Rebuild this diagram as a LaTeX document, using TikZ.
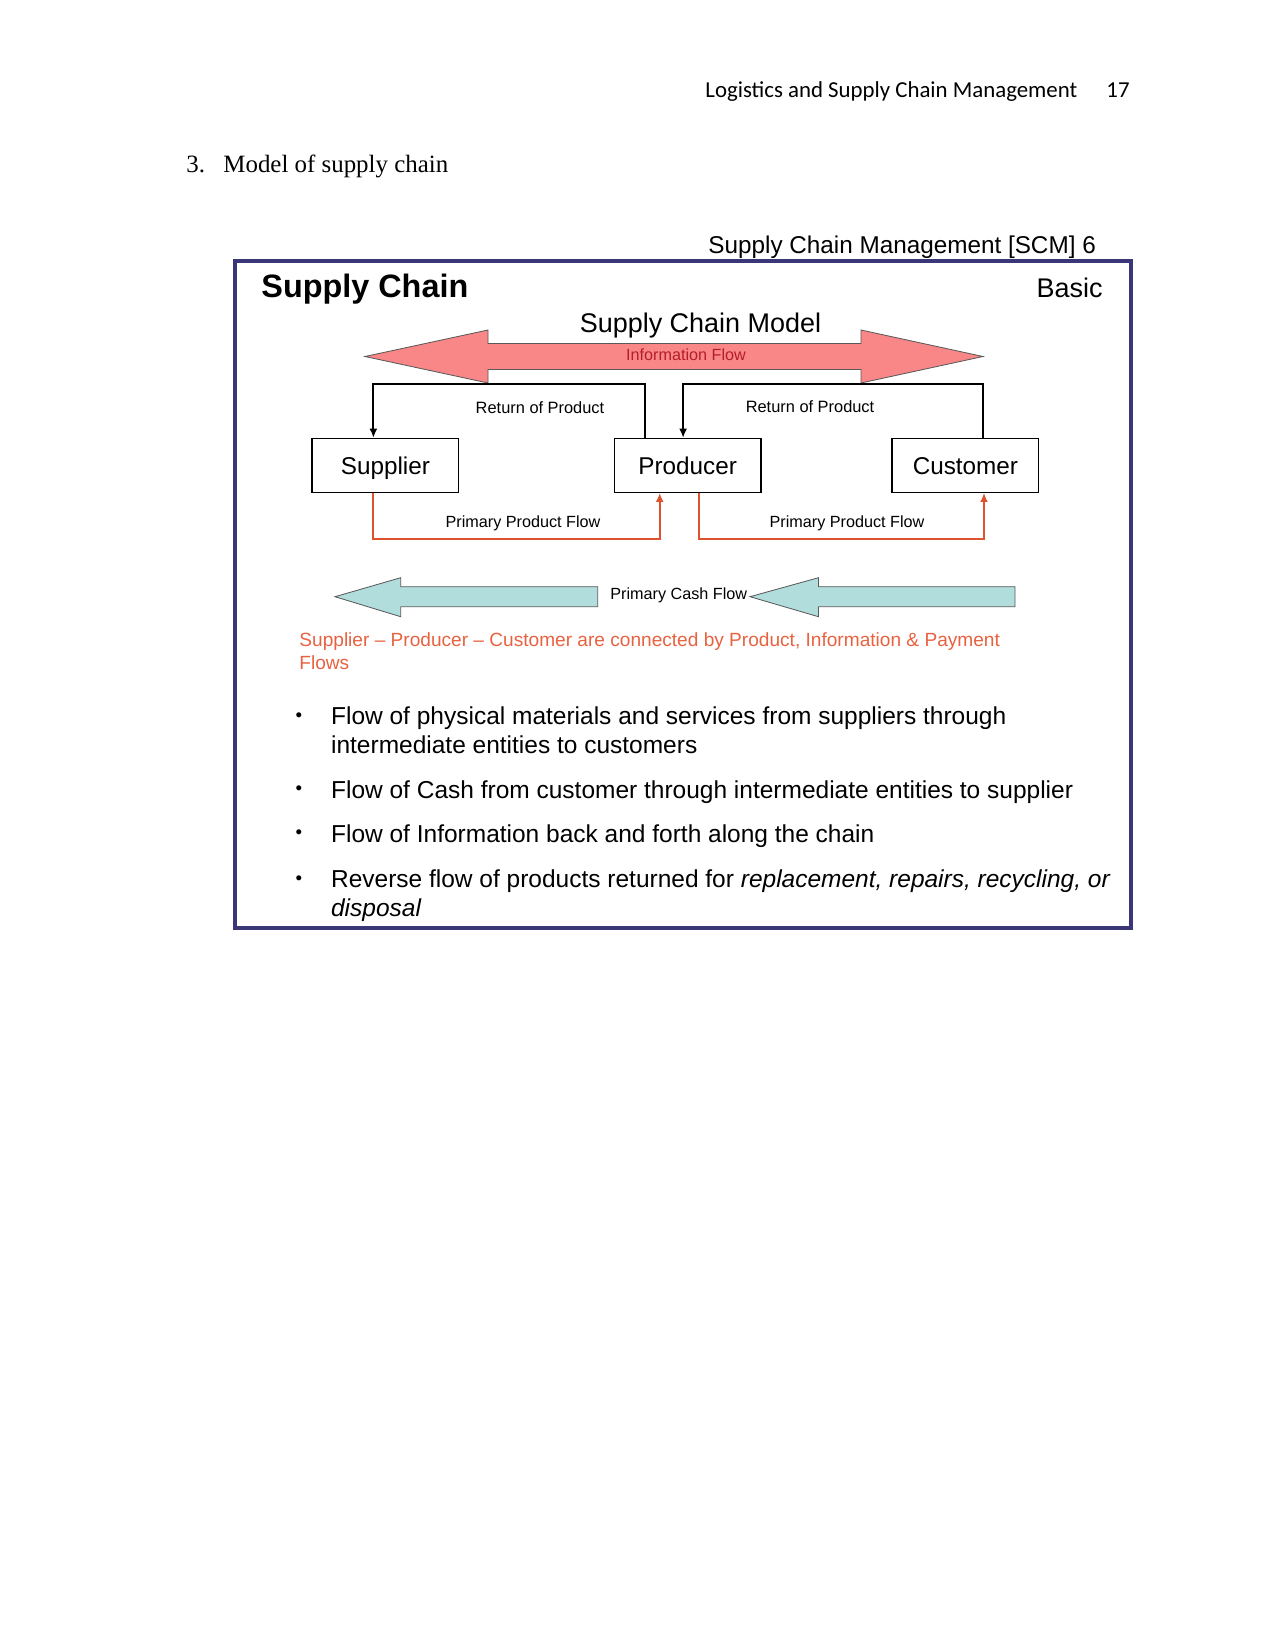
\documentclass[tikz,border=0pt]{standalone}
\usepackage{fontspec}
\setmainfont{Liberation Serif}
\setsansfont{Liberation Sans}
\newfontfamily\calibrifont{Carlito}
\usetikzlibrary{calc}
\usetikzlibrary{positioning}
\usetikzlibrary{arrows.meta}

\definecolor{framenavy}{RGB}{58,54,120}
\definecolor{infored}{RGB}{250,135,135}
\definecolor{infotext}{RGB}{180,30,40}
\definecolor{flowred}{RGB}{222,82,44}
\definecolor{cashteal}{RGB}{178,221,221}
\definecolor{noteorange}{RGB}{232,98,64}

\begin{document}
\begin{tikzpicture}[x=0.16933mm, y=-0.16933mm, >={Latex[length=4.4pt,width=3.8pt]},
    slidetext/.style={inner sep=0pt, font=\sffamily\fontsize{#1}{#1}\selectfont},
    entity/.style={rectangle, draw=black, line width=0.6pt, minimum width=70.7pt, minimum height=25.9pt, inner sep=0pt, text height=8.4pt, text depth=0pt, font=\sffamily\fontsize{11.7}{14}\selectfont},
    bulletline/.style={anchor=base west, slidetext=11.8},
    bulletdot/.style={inner sep=0pt, font=\sffamily\fontsize{9}{9}\selectfont}]
    \useasboundingbox (0,0) rectangle (1275,1650);

    % page header and section title
    \node [anchor=base west, inner sep=0pt, font=\calibrifont\fontsize{11}{13}\selectfont] (header) at (705,97) {Logistics and Supply Chain Management};
    \node [anchor=base west, inner sep=0pt, font=\calibrifont\fontsize{11}{13}\selectfont] (pagenum) at (1106,97) {17};
    \node [anchor=base west, inner sep=0pt, font=\fontsize{12}{14}\selectfont] (secnum) at (186,172) {3.};
    \node [anchor=base west, inner sep=0pt, font=\fontsize{12}{14}\selectfont] (sectitle) at (223,172) {Model of supply chain};

    % slide
    \node [anchor=base west, slidetext=11.7] (slidehdr) at (708,253) {Supply Chain Management [SCM] 6};
    \draw [framenavy, line width=1.8pt] (235,261) rectangle (1131,928);
    \node [anchor=base west, inner sep=0pt, font=\sffamily\bfseries\fontsize{15.6}{18}\selectfont] (slidetitle) at (261,297) {Supply Chain};
    \node [anchor=base east, slidetext=13] (basic) at (1103,297) {Basic};
    \node [anchor=base, slidetext=13] (model) at (700.5,332) {Supply Chain Model};

    % information flow
    \draw [fill=infored, draw=black!65, line width=0.4pt] (365,356.5) -- (488,330) -- (488,343.5) -- (861,343.5) -- (861,330) -- (983,356.5) -- (861,383) -- (861,369.5) -- (488,369.5) -- (488,383) -- cycle;
    \node [anchor=base, text=infotext, slidetext=7.8] (infolabel) at (686,360) {Information Flow};

    % entities
    \node [entity] (supplier) at (385.4,465.3) {Supplier};
    \node [entity, right=2.613cm of supplier] (producer) {Producer};
    \node [entity, right=2.196cm of producer] (customer) {Customer};

    % return of product
    \draw [->, line width=1pt] ($(producer.north west)+(31,0)$) -- ++(0,-54) -| ($(supplier.north west)+(62,0)$);
    \draw [->, line width=1pt] ($(customer.north west)+(92,0)$) -- ++(0,-54) -| ($(producer.north west)+(69.4,0)$);
    \node [anchor=base, slidetext=7.9] (retleft) at (540,413) {Return of Product};
    \node [anchor=base, slidetext=7.9] (retright) at (810,412) {Return of Product};

    % primary product flow
    \draw [->, flowred, line width=1pt] ($(supplier.south west)+(62,0)$) -- ++(0,46) -| ($(producer.south west)+(46,0)$);
    \draw [->, flowred, line width=1pt] ($(producer.south west)+(85,0)$) -- ++(0,46) -| ($(customer.south west)+(92.6,0)$);
    \node [anchor=base, slidetext=7.8] (prodleft) at (523,527.7) {Primary Product Flow};
    \node [anchor=base, slidetext=7.8] (prodright) at (847,527.7) {Primary Product Flow};

    % primary cash flow
    \draw [fill=cashteal, draw=black!65, line width=0.4pt] (335,596.7) -- (400.7,577.7) -- (400.7,586.7) -- (597.7,586.7) -- (597.7,606.7) -- (400.7,606.7) -- (400.7,616.7) -- cycle;
    \draw [fill=cashteal, draw=black!65, line width=0.4pt] (750,596.7) -- (818.5,577.7) -- (818.5,586.7) -- (1015,586.7) -- (1015,606.7) -- (818.5,606.7) -- (818.5,616.7) -- cycle;
    \node [anchor=base west, slidetext=7.8] (cashlabel) at (610,599.3) {Primary Cash Flow};

    % note
    \node [anchor=base west, text=noteorange, slidetext=9.2] (note1) at (299,646.7) {Supplier -- Producer -- Customer are connected by Product, Information \& Payment};
    \node [anchor=base west, text=noteorange, slidetext=9.2] (note2) at (299,669) {Flows};

    % bullets
    \node [bulletdot] (dot1) at (299,716.7) {\textbullet};
    \node [bulletline] (line1) at (330.7,724.3) {Flow of physical materials and services from suppliers through};
    \node [bulletline] (line1b) at (330.7,753.8) {intermediate entities to customers};
    \node [bulletdot] (dot2) at (299,790.4) {\textbullet};
    \node [bulletline] (line2) at (330.7,798) {Flow of Cash from customer through intermediate entities to supplier};
    \node [bulletdot] (dot3) at (299,834.5) {\textbullet};
    \node [bulletline] (line3) at (330.7,842.1) {Flow of Information back and forth along the chain};
    \node [bulletdot] (dot4) at (299,879.8) {\textbullet};
    \node [bulletline] (line4) at (330.7,887.4) {Reverse flow of products returned for \textit{replacement, repairs, recycling, or}};
    \node [bulletline] (line4b) at (330.7,916.8) {\textit{disposal}};
\end{tikzpicture}
\end{document}
